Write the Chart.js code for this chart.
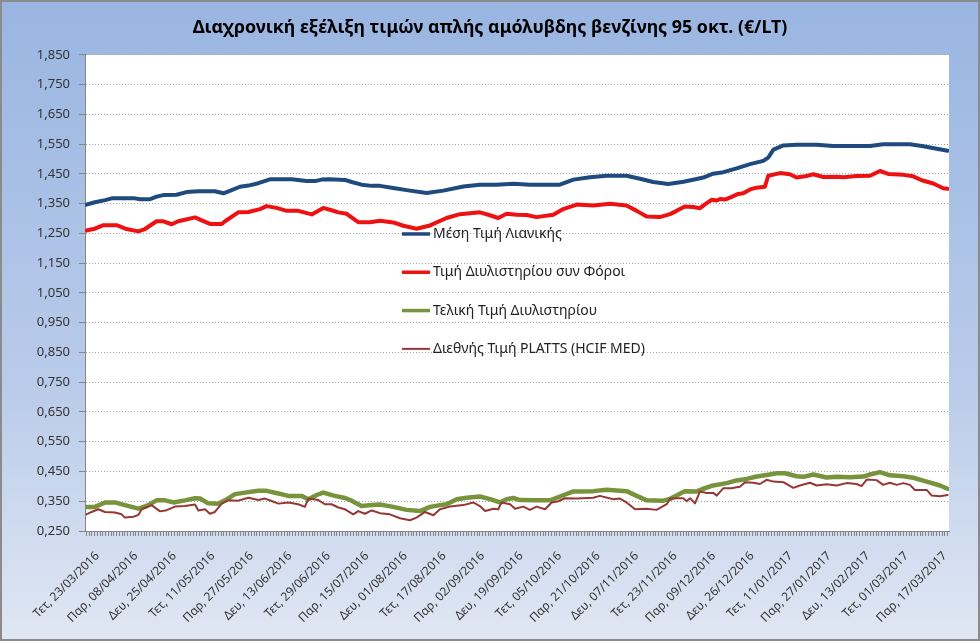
<!DOCTYPE html>
<html lang="el">
<head>
<meta charset="UTF-8">
<title>Τιμές αμόλυβδης 95</title>
<script src="https://cdn.jsdelivr.net/npm/chart.js"></script>
<style>
    html, body { margin: 0; padding: 0; background: #fff; }
    .frame {
        position: relative;
        width: 980px; height: 641px;
        background: linear-gradient(to bottom, #99b5e1 0%, #b9cbea 60%, #e0e7f3 100%);
        box-shadow: inset 0 0 0 2px #8b8b8b;
    }
    canvas { display: block; }
</style>
</head>
<body>
<div class="frame">
    <canvas id="fuelChart" width="980" height="641"></canvas>
</div>

<script>
// ---- data (x = trading-day index from 23/03/2016) ----
const nDays = 314;
const labelEvery = 14;

const dateLabels = [
    'Τετ, 23/03/2016', 'Παρ, 08/04/2016', 'Δευ, 25/04/2016', 'Τετ, 11/05/2016',
    'Παρ, 27/05/2016', 'Δευ, 13/06/2016', 'Τετ, 29/06/2016', 'Παρ, 15/07/2016',
    'Δευ, 01/08/2016', 'Τετ, 17/08/2016', 'Παρ, 02/09/2016', 'Δευ, 19/09/2016',
    'Τετ, 05/10/2016', 'Παρ, 21/10/2016', 'Δευ, 07/11/2016', 'Τετ, 23/11/2016',
    'Παρ, 09/12/2016', 'Δευ, 26/12/2016', 'Τετ, 11/01/2017', 'Παρ, 27/01/2017',
    'Δευ, 13/02/2017', 'Τετ, 01/03/2017', 'Παρ, 17/03/2017'
];

const yTickLabels = [
    '0,250', '0,350', '0,450', '0,550', '0,650', '0,750', '0,850', '0,950', '1,050',
    '1,150', '1,250', '1,350', '1,450', '1,550', '1,650', '1,750', '1,850'
];

const seriesNames = [
    'Μέση Τιμή Λιανικής',
    'Τιμή Διυλιστηρίου συν Φόροι',
    'Τελική Τιμή Διυλιστηρίου',
    'Διεθνής Τιμή PLATTS (HCIF MED)'
];

const retail = [
    [0,1.347],[3.1,1.355],[6.8,1.362],[9.2,1.368],[17.7,1.368],[19.5,1.365],[23.1,1.365],[25.5,1.374],
    [28,1.379],[32.8,1.380],[36.4,1.389],[40.7,1.392],[46.7,1.392],[49.8,1.385],[52.8,1.396],[55.8,1.407],
    [58.9,1.411],[62.5,1.419],[66.7,1.432],[74.6,1.432],[80,1.426],[83.1,1.426],[85.5,1.431],[88.5,1.432],
    [94,1.430],[96.4,1.423],[100,1.414],[103.7,1.410],[106.7,1.410],[111.5,1.403],[117.6,1.394],[123.7,1.386],
    [129.7,1.394],[137,1.408],[143,1.414],[149.1,1.414],[155.2,1.417],[161.2,1.414],[172.1,1.414],[177,1.431],
    [183,1.439],[189.1,1.444],[196.3,1.444],[201.2,1.434],[206,1.423],[211.5,1.416],[217,1.424],[221.8,1.433],
    [224.2,1.438],[227.8,1.451],[231.5,1.456],[236.3,1.469],[241.2,1.483],[246,1.494],[247.8,1.505],[249.7,1.532],
    [253.3,1.546],[258.1,1.548],[265.4,1.548],[271.5,1.544],[284.8,1.544],[289.6,1.550],[299.3,1.550],[304.2,1.543],
    [309,1.535],[313,1.528]
];

const refineryTaxes = [
    [0,1.260],[3.1,1.266],[6.2,1.278],[11,1.278],[14.6,1.265],[18.9,1.257],[21.3,1.265],[25.5,1.291],
    [28,1.291],[31,1.281],[33.4,1.291],[35.8,1.296],[39.5,1.304],[41.9,1.294],[44.9,1.282],[49.2,1.282],
    [50.4,1.291],[55.2,1.321],[58.9,1.322],[63.1,1.332],[65.5,1.342],[69.1,1.336],[72.8,1.326],[77,1.326],
    [81.9,1.314],[86.1,1.336],[89.1,1.328],[91.6,1.321],[94.6,1.316],[98.8,1.288],[103.1,1.288],[106.7,1.293],
    [111.5,1.287],[115.2,1.276],[120,1.266],[124.9,1.277],[130.9,1.302],[135.8,1.315],[143,1.321],[146.1,1.313],
    [149.7,1.302],[152.7,1.316],[156.4,1.313],[160,1.312],[163.6,1.305],[169.7,1.313],[173.3,1.332],[178.2,1.347],
    [184.2,1.344],[190.3,1.350],[196.3,1.344],[200,1.326],[203.6,1.307],[208.4,1.305],[212.1,1.315],[214.5,1.326],
    [217.5,1.341],[220.6,1.339],[223,1.335],[224.8,1.348],[227.2,1.363],[229.1,1.361],[230.3,1.366],[232.1,1.364],
    [234.5,1.373],[236.9,1.383],[238.7,1.385],[241.2,1.398],[243.6,1.404],[246.6,1.407],[247.8,1.444],[252.1,1.453],
    [255.7,1.449],[258.1,1.438],[261.2,1.442],[264.2,1.449],[267.8,1.440],[272.7,1.441],[275.1,1.439],[279.9,1.443],
    [284.8,1.444],[288.4,1.460],[291.4,1.450],[296.9,1.447],[300.5,1.442],[303.6,1.429],[307.8,1.418],[311.4,1.402],
    [313,1.400]
];

const refineryFinal = [
    [0,0.331],[3.1,0.331],[6.8,0.346],[10.4,0.346],[14,0.337],[18.9,0.325],[21.9,0.334],[25.5,0.353],
    [28.6,0.353],[31.6,0.346],[35.8,0.353],[39.5,0.360],[41.3,0.359],[44.3,0.343],[48,0.342],[50.4,0.353],
    [54,0.374],[57.6,0.379],[62.5,0.385],[65.5,0.385],[69.8,0.376],[73.4,0.368],[78.2,0.368],[80.7,0.357],
    [83.7,0.371],[86.1,0.379],[90.3,0.368],[94,0.361],[96.4,0.352],[100,0.334],[103.7,0.337],[106.7,0.339],
    [111.5,0.331],[116.4,0.321],[121.2,0.317],[124.9,0.331],[128.5,0.337],[130.9,0.340],[134.6,0.357],[138.2,0.362],
    [143,0.366],[146.7,0.357],[150.3,0.346],[152.7,0.357],[155.1,0.361],[157.6,0.354],[162.4,0.353],[168.5,0.353],
    [172.1,0.366],[177,0.383],[184.2,0.384],[189.1,0.389],[196.3,0.384],[200,0.368],[203.6,0.353],[209.7,0.352],
    [212.1,0.358],[214.5,0.369],[217.5,0.384],[221.8,0.383],[224.2,0.392],[227.8,0.403],[232.7,0.411],[236.3,0.420],
    [240,0.425],[243.6,0.433],[248.4,0.440],[250.9,0.444],[253.9,0.444],[258.1,0.434],[260.6,0.432],[264.2,0.440],
    [269,0.430],[272.7,0.432],[277.5,0.431],[282.4,0.433],[284.8,0.440],[288.4,0.448],[292,0.437],[296.9,0.434],
    [300.5,0.429],[305.4,0.416],[310.2,0.403],[313,0.392]
];

const platts = [
    [0,0.306],[1.9,0.314],[4.3,0.323],[6.8,0.314],[10.4,0.312],[12.8,0.306],[14,0.295],[17.1,0.298],
    [18.9,0.304],[20.1,0.323],[23.7,0.337],[26.8,0.316],[29.2,0.320],[32.2,0.332],[35.8,0.334],[39.5,0.339],
    [40.7,0.319],[43.1,0.323],[44.9,0.308],[46.7,0.314],[49.2,0.342],[51.6,0.353],[55.2,0.352],[58.9,0.362],
    [62.5,0.354],[64.9,0.359],[67.3,0.351],[69.8,0.342],[73.4,0.346],[77,0.340],[79.4,0.331],[80.7,0.359],
    [84.3,0.354],[86.7,0.340],[89.1,0.340],[91.6,0.329],[94,0.323],[97,0.306],[98.8,0.317],[101.2,0.308],
    [103.7,0.319],[106.7,0.310],[110.3,0.306],[114,0.293],[117.6,0.286],[120,0.295],[123.1,0.314],[126.1,0.303],
    [128.5,0.323],[132.1,0.332],[137,0.337],[140.6,0.346],[143,0.334],[144.9,0.317],[147.9,0.325],[149.7,0.323],
    [150.9,0.346],[154,0.340],[155.8,0.325],[158.8,0.332],[161.2,0.321],[163.6,0.332],[166.7,0.323],[169.1,0.346],
    [171.5,0.350],[173.9,0.360],[178.2,0.359],[184.2,0.362],[186.6,0.368],[191.5,0.357],[193.9,0.359],[196.3,0.346],
    [199.4,0.323],[203.6,0.325],[207.2,0.321],[210.9,0.340],[212.1,0.358],[214.5,0.360],[216.9,0.360],[218.2,0.350],
    [219.4,0.360],[221.2,0.343],[223,0.383],[225.4,0.378],[227.8,0.378],[229.1,0.369],[231.5,0.394],[234.5,0.394],
    [236.3,0.397],[237.5,0.399],[239.4,0.414],[242.4,0.412],[244.8,0.408],[247.2,0.422],[249.7,0.416],[253.3,0.414],
    [256.9,0.395],[259.3,0.403],[263,0.412],[265.4,0.403],[269,0.407],[272.7,0.403],[276.3,0.411],[279.9,0.408],
    [281.7,0.401],[283.6,0.423],[287.2,0.421],[289.6,0.405],[292,0.412],[294.5,0.405],[296.9,0.411],[299.3,0.405],
    [301.1,0.388],[305.4,0.388],[307.2,0.369],[310.2,0.367],[313,0.371]
];

const seriesColors = ['#1f4a7e', '#ee1111', '#77933c', '#953735'];
const seriesWidths = [4, 4, 4.5, 2];

(function () {
    Chart.defaults.font.family = "'Noto Sans', 'DejaVu Sans', sans-serif";

    const toPoints = arr => arr.map(([x, y]) => ({ x, y }));
    const allSeries = [retail, refineryTaxes, refineryFinal, platts];

    // white plot area
    const plotBg = {
        id: 'plotBg',
        beforeDraw(chart) {
            const { ctx, chartArea: a } = chart;
            ctx.save();
            ctx.fillStyle = '#ffffff';
            ctx.fillRect(a.left, a.top, a.right - a.left, a.bottom - a.top);
            ctx.restore();
        }
    };

    // legend drawn inside the plot, like the original
    const insideLegend = {
        id: 'insideLegend',
        afterDatasetsDraw(chart) {
            const { ctx, chartArea: a } = chart;
            const x0 = a.left + 317, y0 = a.top + 179, step = 38.3;
            chart.data.datasets.forEach((ds, i) => {
                const y = y0 + i * step;
                ctx.save();
                ctx.strokeStyle = ds.borderColor;
                ctx.lineWidth = Math.min(ds.borderWidth, 3.5);
                ctx.beginPath();
                ctx.moveTo(x0, y);
                ctx.lineTo(x0 + 28, y);
                ctx.stroke();
                ctx.fillStyle = '#222222';
                ctx.font = "14px 'Noto Sans', 'DejaVu Sans', sans-serif";
                ctx.textBaseline = 'middle';
                ctx.fillText(ds.label, x0 + 31, y);
                ctx.restore();
            });
        }
    };

    new Chart(document.getElementById('fuelChart'), {
        type: 'line',
        data: {
            datasets: allSeries.map((s, i) => ({
                label: seriesNames[i],
                data: toPoints(s),
                borderColor: seriesColors[i],
                backgroundColor: seriesColors[i],
                borderWidth: seriesWidths[i],
                pointRadius: 0,
                tension: 0,
                borderJoinStyle: 'round',
                borderCapStyle: 'round',
                order: 3 - i
            }))
        },
        options: {
            responsive: false,
            animation: false,
            layout: { padding: 0 },
            plugins: {
                legend: { display: false },
                tooltip: { enabled: false },
                title: {
                    display: true,
                    text: 'Διαχρονική εξέλιξη τιμών απλής αμόλυβδης βενζίνης 95 οκτ. (€/LT)',
                    color: '#000000',
                    font: { size: 17.8, weight: 'bold' },
                    padding: { top: 16.8, bottom: 16.8 }
                }
            },
            scales: {
                x: {
                    type: 'linear',
                    min: -0.5,
                    max: nDays - 0.5,
                    afterBuildTicks: axis => {
                        axis.ticks = Array.from({ length: nDays }, (_, i) => ({ value: i }));
                    },
                    afterFit: axis => { axis.height = 110; },
                    grid: { drawOnChartArea: false, drawTicks: true, tickLength: 5, color: '#868686', tickBorderDash: [] },
                    border: { color: '#868686' },
                    ticks: {
                        autoSkip: false,
                        maxRotation: 45,
                        minRotation: 45,
                        color: '#333333',
                        font: { size: 12 },
                        padding: 13,
                        labelOffset: 11,
                        callback: v => (v % labelEvery === 0 ? dateLabels[v / labelEvery] : '')
                    }
                },
                y: {
                    min: 0.25,
                    max: 1.85,
                    afterBuildTicks: axis => {
                        axis.ticks = yTickLabels.map(t => ({ value: parseFloat(t.replace(',', '.')) }));
                    },
                    afterFit: axis => { axis.width = 85; },
                    grid: { color: '#a6a6a6', tickColor: '#868686', tickLength: 6, tickBorderDash: [] },
                    border: { color: '#868686', dash: [1, 2] },
                    ticks: {
                        color: '#333333',
                        font: { size: 13 },
                        padding: 9,
                        callback: (v, i) => yTickLabels[i]
                    }
                },
                // empty right-hand margin, keeps the title centred on the whole picture
                spacer: {
                    position: 'right',
                    display: true,
                    afterFit: axis => { axis.width = 31; },
                    grid: { display: false },
                    border: { display: false },
                    ticks: { display: false }
                }
            }
        },
        plugins: [plotBg, insideLegend]
    });
})();
</script>
</body>
</html>
